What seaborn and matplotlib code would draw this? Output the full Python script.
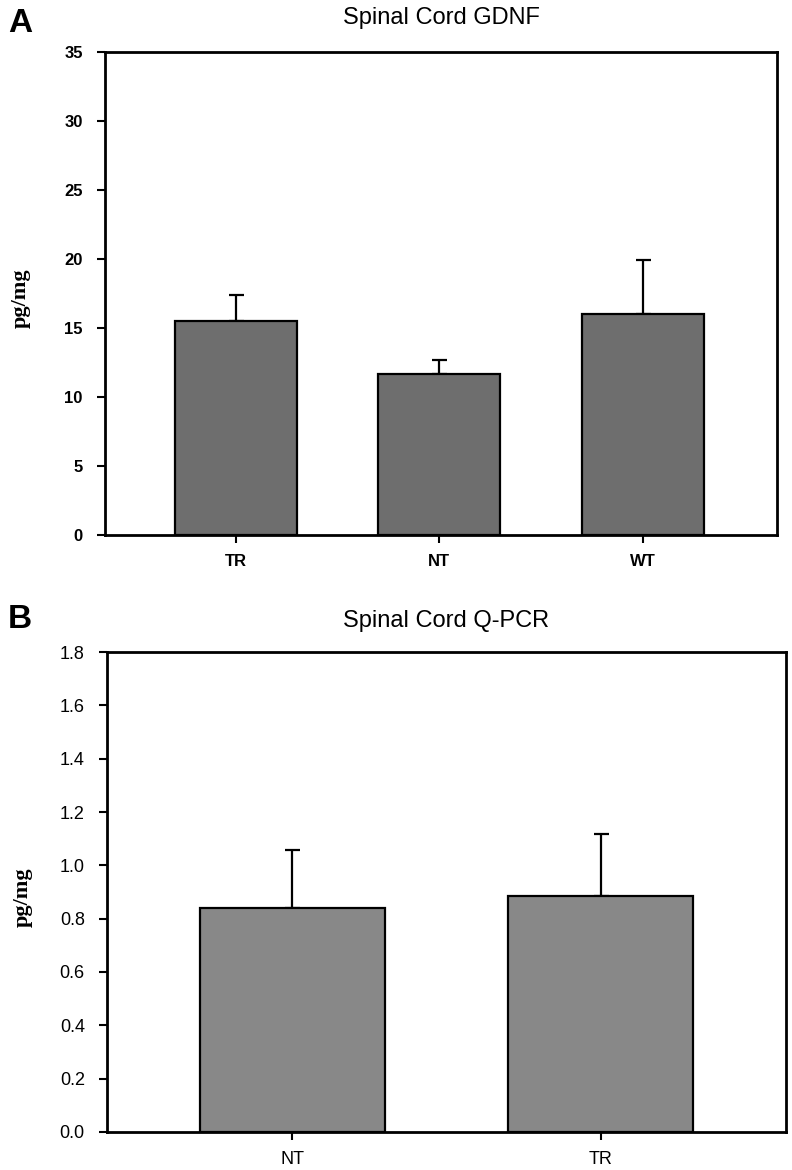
import pandas as pd
import seaborn as sns
import matplotlib.pyplot as plt

# Panel A: spinal cord GDNF
gdnf_groups = ["TR", "NT", "WT"]
gdnf_mean = [15.5, 11.65, 16.0]
gdnf_err = [1.9, 1.05, 3.95]

# Panel B: spinal cord Q-PCR
pcr_groups = ["NT", "TR"]
pcr_mean = [0.84, 0.885]
pcr_err = [0.217, 0.232]

sns.set_theme(style="ticks")
plt.rcParams['font.family'] = ['Liberation Sans', 'DejaVu Sans']
plt.rcParams['text.color'] = 'black'

fig = plt.figure(figsize=(7.92, 11.7), dpi=100)
ax1 = fig.add_axes([0.1326, 0.5427, 0.981 - 0.1326, 0.9556 - 0.5427])
ax2 = fig.add_axes([0.1351, 0.0325, 0.9924 - 0.1351, 0.4427 - 0.0325])


def draw_panel(ax, groups, means, errs, color):
    df = pd.DataFrame({"group": groups, "value": means})
    sns.barplot(data=df, x="group", y="value", color=color, width=0.6,
                edgecolor="black", linewidth=1.6, saturation=1,
                errorbar=None, ax=ax, zorder=2)
    # upper error bars only
    ax.errorbar(range(len(groups)), means, yerr=[[0] * len(errs), errs],
                fmt="none", ecolor="black", elinewidth=1.6, capsize=5.4,
                capthick=1.6, zorder=1)
    for s in ax.spines.values():
        s.set_visible(True)
        s.set_linewidth(2)
        s.set_color("black")
    ax.tick_params(axis="both", direction="out", length=6, width=1.5,
                   colors="black")
    ax.tick_params(axis="y", pad=10)
    ax.tick_params(axis="x", pad=8)
    ax.set_xlabel("")
    ax.set_ylabel("pg/mg", family="Liberation Serif", fontweight="bold",
                  fontsize=16, color="black")
    ax.yaxis.set_label_coords(-0.11, 0.49)


# ---- panel A
draw_panel(ax1, gdnf_groups, gdnf_mean, gdnf_err, "#6e6e6e")
ax1.set_ylim(0, 35)
ax1.set_xlim(-0.644, 2.66)
ax1.set_xticks(range(3), gdnf_groups)
ax1.set_yticks(range(0, 36, 5))
for lab in ax1.get_xticklabels() + ax1.get_yticklabels():
    lab.set_fontweight("bold")
    lab.set_fontsize(12)
ax1.set_title("Spinal Cord GDNF", fontsize=17, pad=20, color="black")
fig.text(0.01, 0.993, "A", fontsize=24, fontweight="bold", va="top",
         color="black")

# ---- panel B
draw_panel(ax2, pcr_groups, pcr_mean, pcr_err, "#888888")
ax2.set_ylim(0, 1.8)
ax2.set_xlim(-0.6, 1.6)
ax2.set_yticks([i / 5 for i in range(10)])
ax2.set_yticklabels([f"{i / 5:.1f}" for i in range(10)])
ax2.tick_params(axis="both", labelsize=13)
ax2.set_title("Spinal Cord Q-PCR", fontsize=17, pad=18, color="black")
fig.text(0.01, 0.484, "B", fontsize=24, fontweight="bold", va="top",
         color="black")

fig.savefig("out.png", dpi=100)
